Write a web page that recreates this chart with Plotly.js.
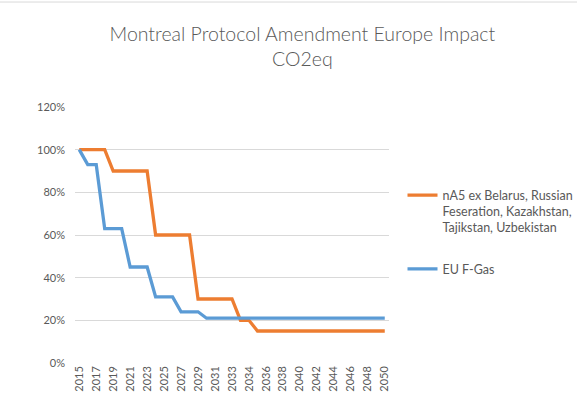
<!DOCTYPE html>
<html>
<head>
<meta charset="utf-8">
<script src="https://cdn.plot.ly/plotly-3.0.1.min.js"></script>
<style>html,body{margin:0;padding:0;background:#fff;}#chart{width:577px;height:418px;}</style>
</head>
<body>
<div id="chart"></div>
<script>
// Category labels (37 periods; period 19 repeats 2034 as in the source sheet)
const years = ["2015","2016","2017","2018","2019","2020","2021","2022","2023","2024",
  "2025","2026","2027","2028","2029","2030","2031","2032","2033","2034",
  "2034","2035","2036","2037","2038","2039","2040","2041","2042","2043",
  "2044","2045","2046","2047","2048","2049","2050"];

const nA5Name = "nA5 ex Belarus, Russian<br>Feseration, Kazakhstan,<br>Tajikstan, Uzbekistan";
const nA5Values = [1.00,1.00,1.00,1.00,0.90,0.90,0.90,0.90,0.90,0.60,
  0.60,0.60,0.60,0.60,0.30,0.30,0.30,0.30,0.30,0.20,
  0.20,0.15,0.15,0.15,0.15,0.15,0.15,0.15,0.15,0.15,
  0.15,0.15,0.15,0.15,0.15,0.15,0.15];

const euName = "EU F-Gas";
const euValues = [1.00,0.93,0.93,0.63,0.63,0.63,0.45,0.45,0.45,0.31,
  0.31,0.31,0.24,0.24,0.24,0.21,0.21,0.21,0.21,0.21,
  0.21,0.21,0.21,0.21,0.21,0.21,0.21,0.21,0.21,0.21,
  0.21,0.21,0.21,0.21,0.21,0.21,0.21];

const yTickVals = [0,0.2,0.4,0.6,0.8,1.0,1.2];
const yTickText = ["0%","20%","40%","60%","80%","100%","120%"];

const idx = years.map((_, i) => i);
const xTickVals = idx.filter(i => i % 2 === 0);
const xTickText = xTickVals.map(i => years[i]);

const FONT = 'Lato, "Liberation Sans Narrow", Arial, sans-serif';

const traces = [
  {x: idx, y: nA5Values, name: nA5Name, type: 'scatter', mode: 'lines', legendgroup: 'nA5',
   line: {color: '#ED7D31', width: 3.3}},
  {x: idx, y: euValues, name: euName, type: 'scatter', mode: 'lines', legendgroup: 'eu',
   line: {color: '#5B9BD5', width: 3.3}}
];

const layout = {
  width: 577, height: 418,
  margin: {l: 75, r: 187.5, t: 107, b: 55, autoexpand: false},
  paper_bgcolor: '#ffffff', plot_bgcolor: '#ffffff',
  font: {family: FONT, color: '#595959', size: 12},
  title: {
    text: 'Montreal Protocol Amendment Europe Impact<br>CO2eq',
    font: {family: FONT, size: 19.5, color: '#595959', weight: 300},
    xref: 'container', x: 0.524, xanchor: 'center',
    yref: 'container', y: 0.902, yanchor: 'top'
  },
  xaxis: {
    range: [-0.5, 36.5], tickmode: 'array', tickvals: xTickVals, ticktext: xTickText,
    tickangle: -90, showgrid: false, zeroline: false, showline: false,
    ticks: '', tickfont: {size: 11, color: '#595959'}, fixedrange: true
  },
  yaxis: {
    range: [0, 1.2], tickmode: 'array', tickvals: yTickVals, ticktext: yTickText,
    showgrid: true, gridcolor: '#d9d9d9', gridwidth: 1, zeroline: false, showline: false,
    ticks: '', ticklabelstandoff: 9, tickfont: {size: 11, color: '#595959'}, fixedrange: true
  },
  showlegend: true,
  legend: {
    x: 1.043, xanchor: 'left', y: 0.713, yanchor: 'top', valign: 'top',
    font: {family: FONT, size: 12.5, color: '#595959'},
    tracegroupgap: 22, bgcolor: 'rgba(0,0,0,0)'
  },
  shapes: [
    {type: 'line', xref: 'paper', yref: 'paper', x0: -0.25, x1: 1.6, y0: 1.41, y1: 1.41,
     line: {color: '#d9d9d9', width: 1}}
  ]
};

Plotly.newPlot('chart', traces, layout, {displayModeBar: false, staticPlot: true});
</script>
</body>
</html>
